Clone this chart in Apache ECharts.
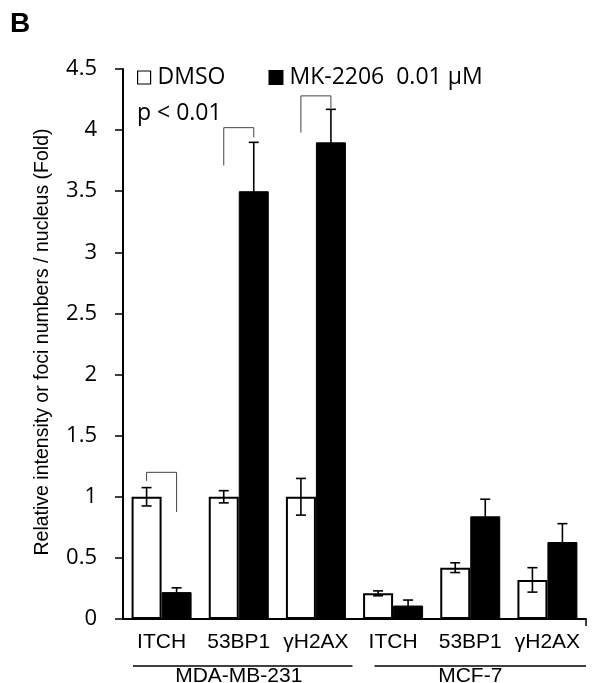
<!DOCTYPE html>
<html>
<head>
<meta charset="utf-8">
<script src="https://cdn.jsdelivr.net/npm/echarts@6/dist/echarts.min.js"></script>
<style>
  html, body { margin: 0; padding: 0; background: #fff; }
  #chart { width: 592px; height: 683px; }
</style>
</head>
<body>
<div id="chart"></div>
<script>
// --- data ---
const categories = ['ITCH', '53BP1', 'γH2AX', 'ITCH', '53BP1', 'γH2AX'];
const groups = [
  { name: 'MDA-MB-231', from: 0, to: 2 },
  { name: 'MCF-7', from: 3, to: 5 }
];
const dmso = [1.0, 1.0, 1.0, 0.21, 0.42, 0.32];
const dmsoErr = [0.075, 0.05, 0.15, 0.02, 0.04, 0.10];
const mk = [0.22, 3.5, 3.9, 0.11, 0.84, 0.63];
const mkErr = [0.035, 0.4, 0.27, 0.045, 0.14, 0.15];
// significance brackets: category, top, left leg end, right leg end
const brackets = [
  [0, 1.2, 1.13, 0.875],
  [1, 4.02, 3.71, 3.94],
  [2, 4.28, 3.98, 4.18]
];

const BAR_W = 30;
const chart = echarts.init(document.getElementById('chart'));

const errorSeries = (vals, errs, side) => ({
  type: 'custom',
  z: 5,
  silent: true,
  data: vals.map((v, i) => [i, v, errs[i]]),
  renderItem: (params, api) => {
    const i = api.value(0), v = api.value(1), e = api.value(2);
    const c = api.coord([i, v]);
    const x = c[0] + side * BAR_W / 2;
    const yTop = api.coord([i, v + e])[1];
    const yBot = api.coord([i, v - e])[1];
    const s = { stroke: '#000', lineWidth: 1.6 };
    return {
      type: 'group',
      children: [
        { type: 'line', shape: { x1: x, y1: yTop, x2: x, y2: yBot }, style: s },
        { type: 'line', shape: { x1: x - 5, y1: yTop, x2: x + 5, y2: yTop }, style: s },
        { type: 'line', shape: { x1: x - 5, y1: yBot, x2: x + 5, y2: yBot }, style: s }
      ]
    };
  }
});

const option = {
  animation: false,
  backgroundColor: '#fff',
  grid: { left: 123, right: 6, top: 69, bottom: 64 },
  legend: {
    left: 132,
    top: 61,
    itemWidth: 13,
    itemHeight: 13,
    itemGap: 43,
    icon: 'rect',
    textStyle: { fontFamily: 'Open Sans', fontSize: 23, color: '#000', padding: [0, 0, 0, 2] },
    data: [
      { name: 'DMSO', itemStyle: { color: '#fff', borderColor: '#000', borderWidth: 1.2 } },
      { name: 'MK-2206  0.01 μM', itemStyle: { color: '#000' } }
    ]
  },
  xAxis: {
    type: 'category',
    data: categories,
    axisLine: { lineStyle: { color: '#000', width: 2 } },
    axisTick: { alignWithLabel: true, length: 7, lineStyle: { color: '#000', width: 1.5 } },
    axisLabel: { interval: 0, color: '#000', fontFamily: 'Liberation Sans', fontSize: 21, margin: 13 }
  },
  yAxis: {
    type: 'value',
    min: 0,
    max: 4.5,
    interval: 0.5,
    name: 'Relative intensity or foci numbers / nucleus (Fold)',
    nameLocation: 'middle',
    nameGap: 70,
    nameTextStyle: { color: '#000', fontFamily: 'Liberation Sans', fontSize: 19.5, padding: [0, 0, 0, 4] },
    splitLine: { show: false },
    axisLine: { show: true, lineStyle: { color: '#000', width: 2 } },
    axisTick: { show: true, length: 8, lineStyle: { color: '#000', width: 1.5 } },
    axisLabel: { color: '#000', fontFamily: 'Open Sans', fontSize: 22, margin: 26 }
  },
  graphic: [
    {
      type: 'text', left: 10, top: 10,
      style: { text: 'B', fontFamily: 'Liberation Sans', fontWeight: 'bold', fontSize: 28, fill: '#000' }
    },
    {
      type: 'text', left: 137, top: 102,
      style: { text: 'p < 0.01', fontFamily: 'Open Sans', fontSize: 23, fill: '#000' }
    }
  ],
  series: [
    {
      name: 'DMSO', type: 'bar', data: dmso, barWidth: BAR_W, barGap: '0%',
      itemStyle: { color: '#fff', borderColor: '#000', borderWidth: 2 }
    },
    {
      name: 'MK-2206  0.01 μM', type: 'bar', data: mk, barWidth: BAR_W, barGap: '0%',
      itemStyle: { color: '#000', borderColor: '#000', borderWidth: 1 }
    },
    errorSeries(dmso, dmsoErr, -1),
    errorSeries(mk, mkErr, 1),
    {
      type: 'custom',
      silent: true,
      data: brackets,
      renderItem: (params, api) => {
        const i = api.value(0);
        const cx = api.coord([i, 0])[0];
        const xl = cx - BAR_W / 2, xr = cx + BAR_W / 2;
        const yt = api.coord([i, api.value(1)])[1];
        const yl = api.coord([i, api.value(2)])[1];
        const yr = api.coord([i, api.value(3)])[1];
        return {
          type: 'polyline',
          shape: { points: [[xl, yl], [xl, yt], [xr, yt], [xr, yr]] },
          style: { stroke: '#444', lineWidth: 1, fill: null }
        };
      }
    },
    {
      type: 'custom',
      silent: true,
      clip: false,
      data: groups.map((g, k) => [g.from, g.to, k]),
      renderItem: (params, api) => {
        const g = groups[api.value(2)];
        const band = api.size([1, 0])[0];
        const y0 = api.coord([0, 0])[1];
        const xs = api.coord([g.from, 0])[0] - band / 2 + (g.from === 0 ? 10 : 20);
        const xe = api.coord([g.to, 0])[0] + band / 2 - (g.to === categories.length - 1 ? 0 : 2);
        const children = [
          { type: 'line', shape: { x1: xs, y1: y0 + 47, x2: xe, y2: y0 + 47 }, style: { stroke: '#000', lineWidth: 1.5 } },
          {
            type: 'text',
            style: {
              text: g.name, x: (api.coord([g.from, 0])[0] + api.coord([g.to, 0])[0]) / 2, y: y0 + 57,
              textAlign: 'center', textVerticalAlign: 'middle',
              font: '21px "Liberation Sans"', fill: '#000'
            }
          }
        ];
        if (g.to === categories.length - 1) {
          const xend = api.coord([g.to, 0])[0] + band / 2;
          children.push({ type: 'line', shape: { x1: xend, y1: y0, x2: xend, y2: y0 + 7 }, style: { stroke: '#000', lineWidth: 1.5 } });
        }
        return { type: 'group', children };
      }
    }
  ]
};

chart.setOption(option);
</script>
</body>
</html>
